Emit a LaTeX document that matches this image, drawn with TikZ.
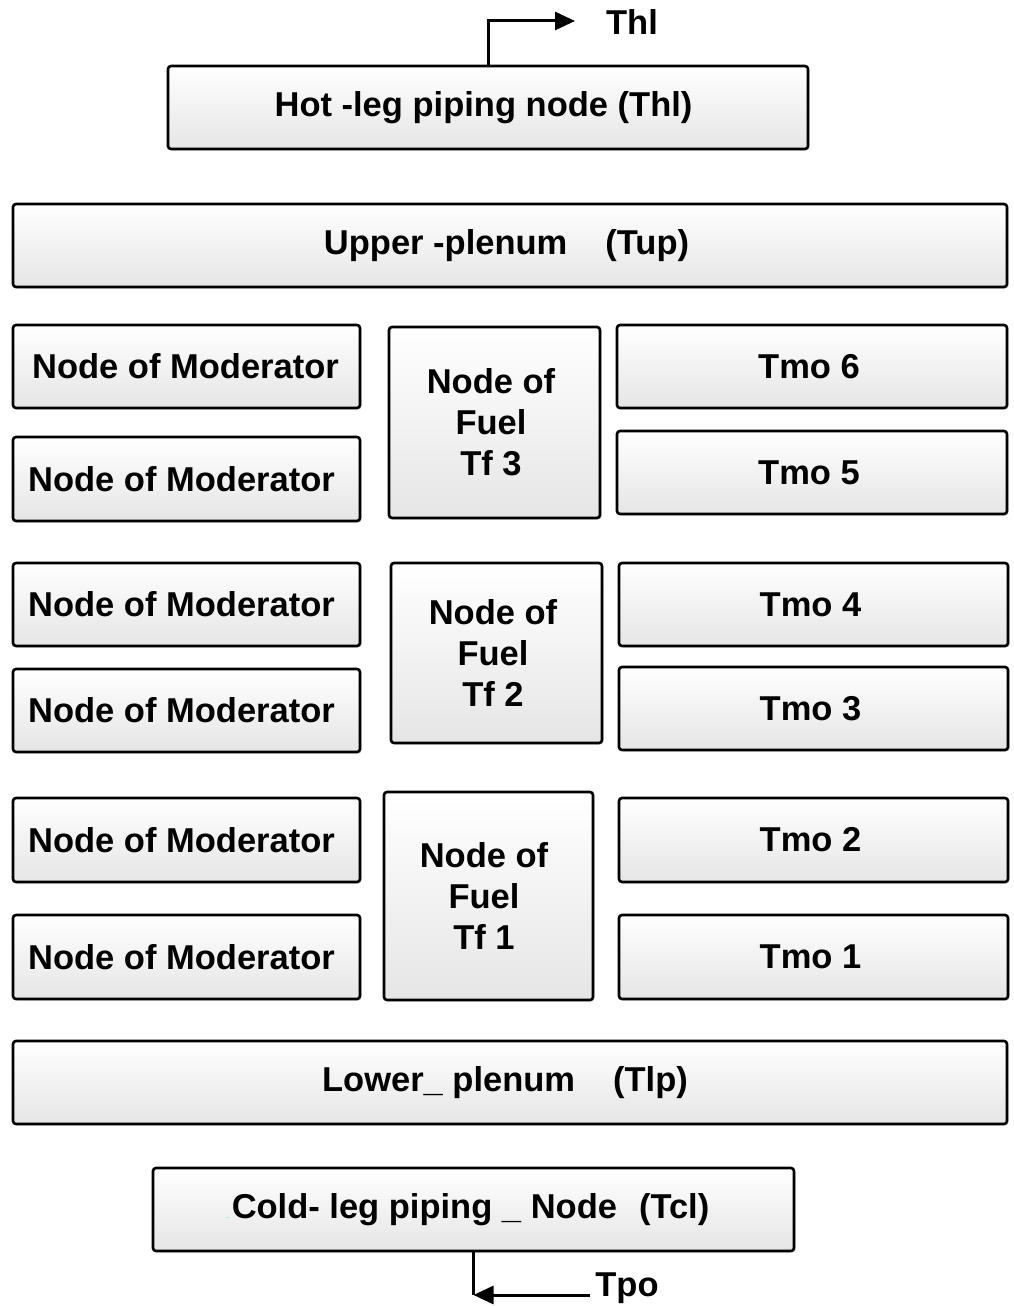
\documentclass[tikz,border=0pt]{standalone}
\usepackage{fontspec}
\setmainfont{Liberation Sans}
\usetikzlibrary{arrows.meta,shadows}
\begin{document}
\begin{tikzpicture}[x=1pt,y=-1pt,
  box/.style={draw=black, line width=2.6pt, rounded corners=3pt,
    top color=white, bottom color=black!10,
    drop shadow={opacity=0.25, shadow xshift=1.5pt, shadow yshift=-1.5pt},
    inner sep=0pt},
  lbl/.style={font=\fontsize{34.5}{41}\selectfont\bfseries, inner sep=0pt, align=center},
  flow/.style={line width=3pt, -{Triangle[length=20pt,width=18pt]}}]
\useasboundingbox (0,0) rectangle (1014,1306);

% hot leg and upper plenum
\node[box, minimum width=640, minimum height=83] (hot) at (488,107.5) {};
\node[lbl] (hott) at ([xshift=-4.5]hot.center) {Hot -leg piping node (Thl)};
\node[box, minimum width=994, minimum height=83] (up) at (510,245.5) {};
\node[lbl] (upt) at ([xshift=-3.5]up.center) {Upper -plenum\hspace{38pt}(Tup)};

% moderator nodes (left column)
\node[box, minimum width=347, minimum height=83] (m1) at (186.5,366.5) {};
\node[box, minimum width=347, minimum height=84] (m2) at (186.5,479) {};
\node[box, minimum width=347, minimum height=83] (m3) at (186.5,604.5) {};
\node[box, minimum width=347, minimum height=83] (m4) at (186.5,710.5) {};
\node[box, minimum width=347, minimum height=84] (m5) at (186.5,840) {};
\node[box, minimum width=347, minimum height=84] (m6) at (186.5,957) {};
\node[lbl] (m1t) at ([xshift=-1]m1.center) {Node of Moderator};
\foreach \m in {m2,m3,m4,m5,m6}
  \node[lbl] (\m t) at ([xshift=-5]\m.center) {Node of Moderator};

% fuel nodes (middle column)
\node[box, minimum width=211, minimum height=191] (f3) at (494.5,422.5) {};
\node[box, minimum width=211, minimum height=180] (f2) at (496.5,653) {};
\node[box, minimum width=209, minimum height=208] (f1) at (488.5,896) {};
\node[lbl] (f3t) at ([xshift=-3.5]f3.center) {Node of\\Fuel\\Tf 3};
\node[lbl] (f2t) at ([xshift=-3.5]f2.center) {Node of\\Fuel\\Tf 2};
\node[lbl] (f1t) at ([xshift=-4.5]f1.center) {Node of\\Fuel\\Tf 1};

% moderator temperatures (right column)
\node[box, minimum width=390, minimum height=83] (t6) at (812,366.5) {};
\node[box, minimum width=390, minimum height=83] (t5) at (812,472.5) {};
\node[box, minimum width=389, minimum height=83] (t4) at (813.5,604.5) {};
\node[box, minimum width=389, minimum height=83] (t3) at (813.5,708.5) {};
\node[box, minimum width=389, minimum height=84] (t2) at (813.5,840) {};
\node[box, minimum width=389, minimum height=84] (t1) at (813.5,957) {};
\foreach \t/\n in {t6/6,t5/5,t4/4,t3/3,t2/2,t1/1}
  \node[lbl] (\t t) at ([xshift=-3]\t.center) {Tmo \n};

% lower plenum and cold leg
\node[box, minimum width=994, minimum height=83] (lp) at (510,1082.5) {};
\node[lbl] (lpt) at ([xshift=-5]lp.center) {Lower\_ plenum\hspace{38pt}(Tlp)};
\node[box, minimum width=641, minimum height=83] (cl) at (473.5,1209.5) {};
\node[lbl] (clt) at ([xshift=-3]cl.center) {Cold- leg piping \_ Node\hspace{22pt}(Tcl)};
\node[inner sep=0pt, text=cyan!60, font=\fontsize{9}{9}\selectfont] (cldots) at ([xshift=-4]clt.base west) {..};

% outlet flow
\coordinate (hotup) at (488,21);
\node[lbl] (thl) at (632,22) {Thl};
\draw[flow] (hot.north) -- (hotup) -- (575,21);

% inlet flow
\node[lbl] (tpo) at (627,1288) {Tpo};
\coordinate (tpotail) at (590,1295);
\coordinate (tpotip) at (cl.south |- tpotail);
\draw[line width=3pt] (cl.south) -- (tpotip);
\draw[flow] (tpotail) -- (tpotip);
\end{tikzpicture}
\end{document}
